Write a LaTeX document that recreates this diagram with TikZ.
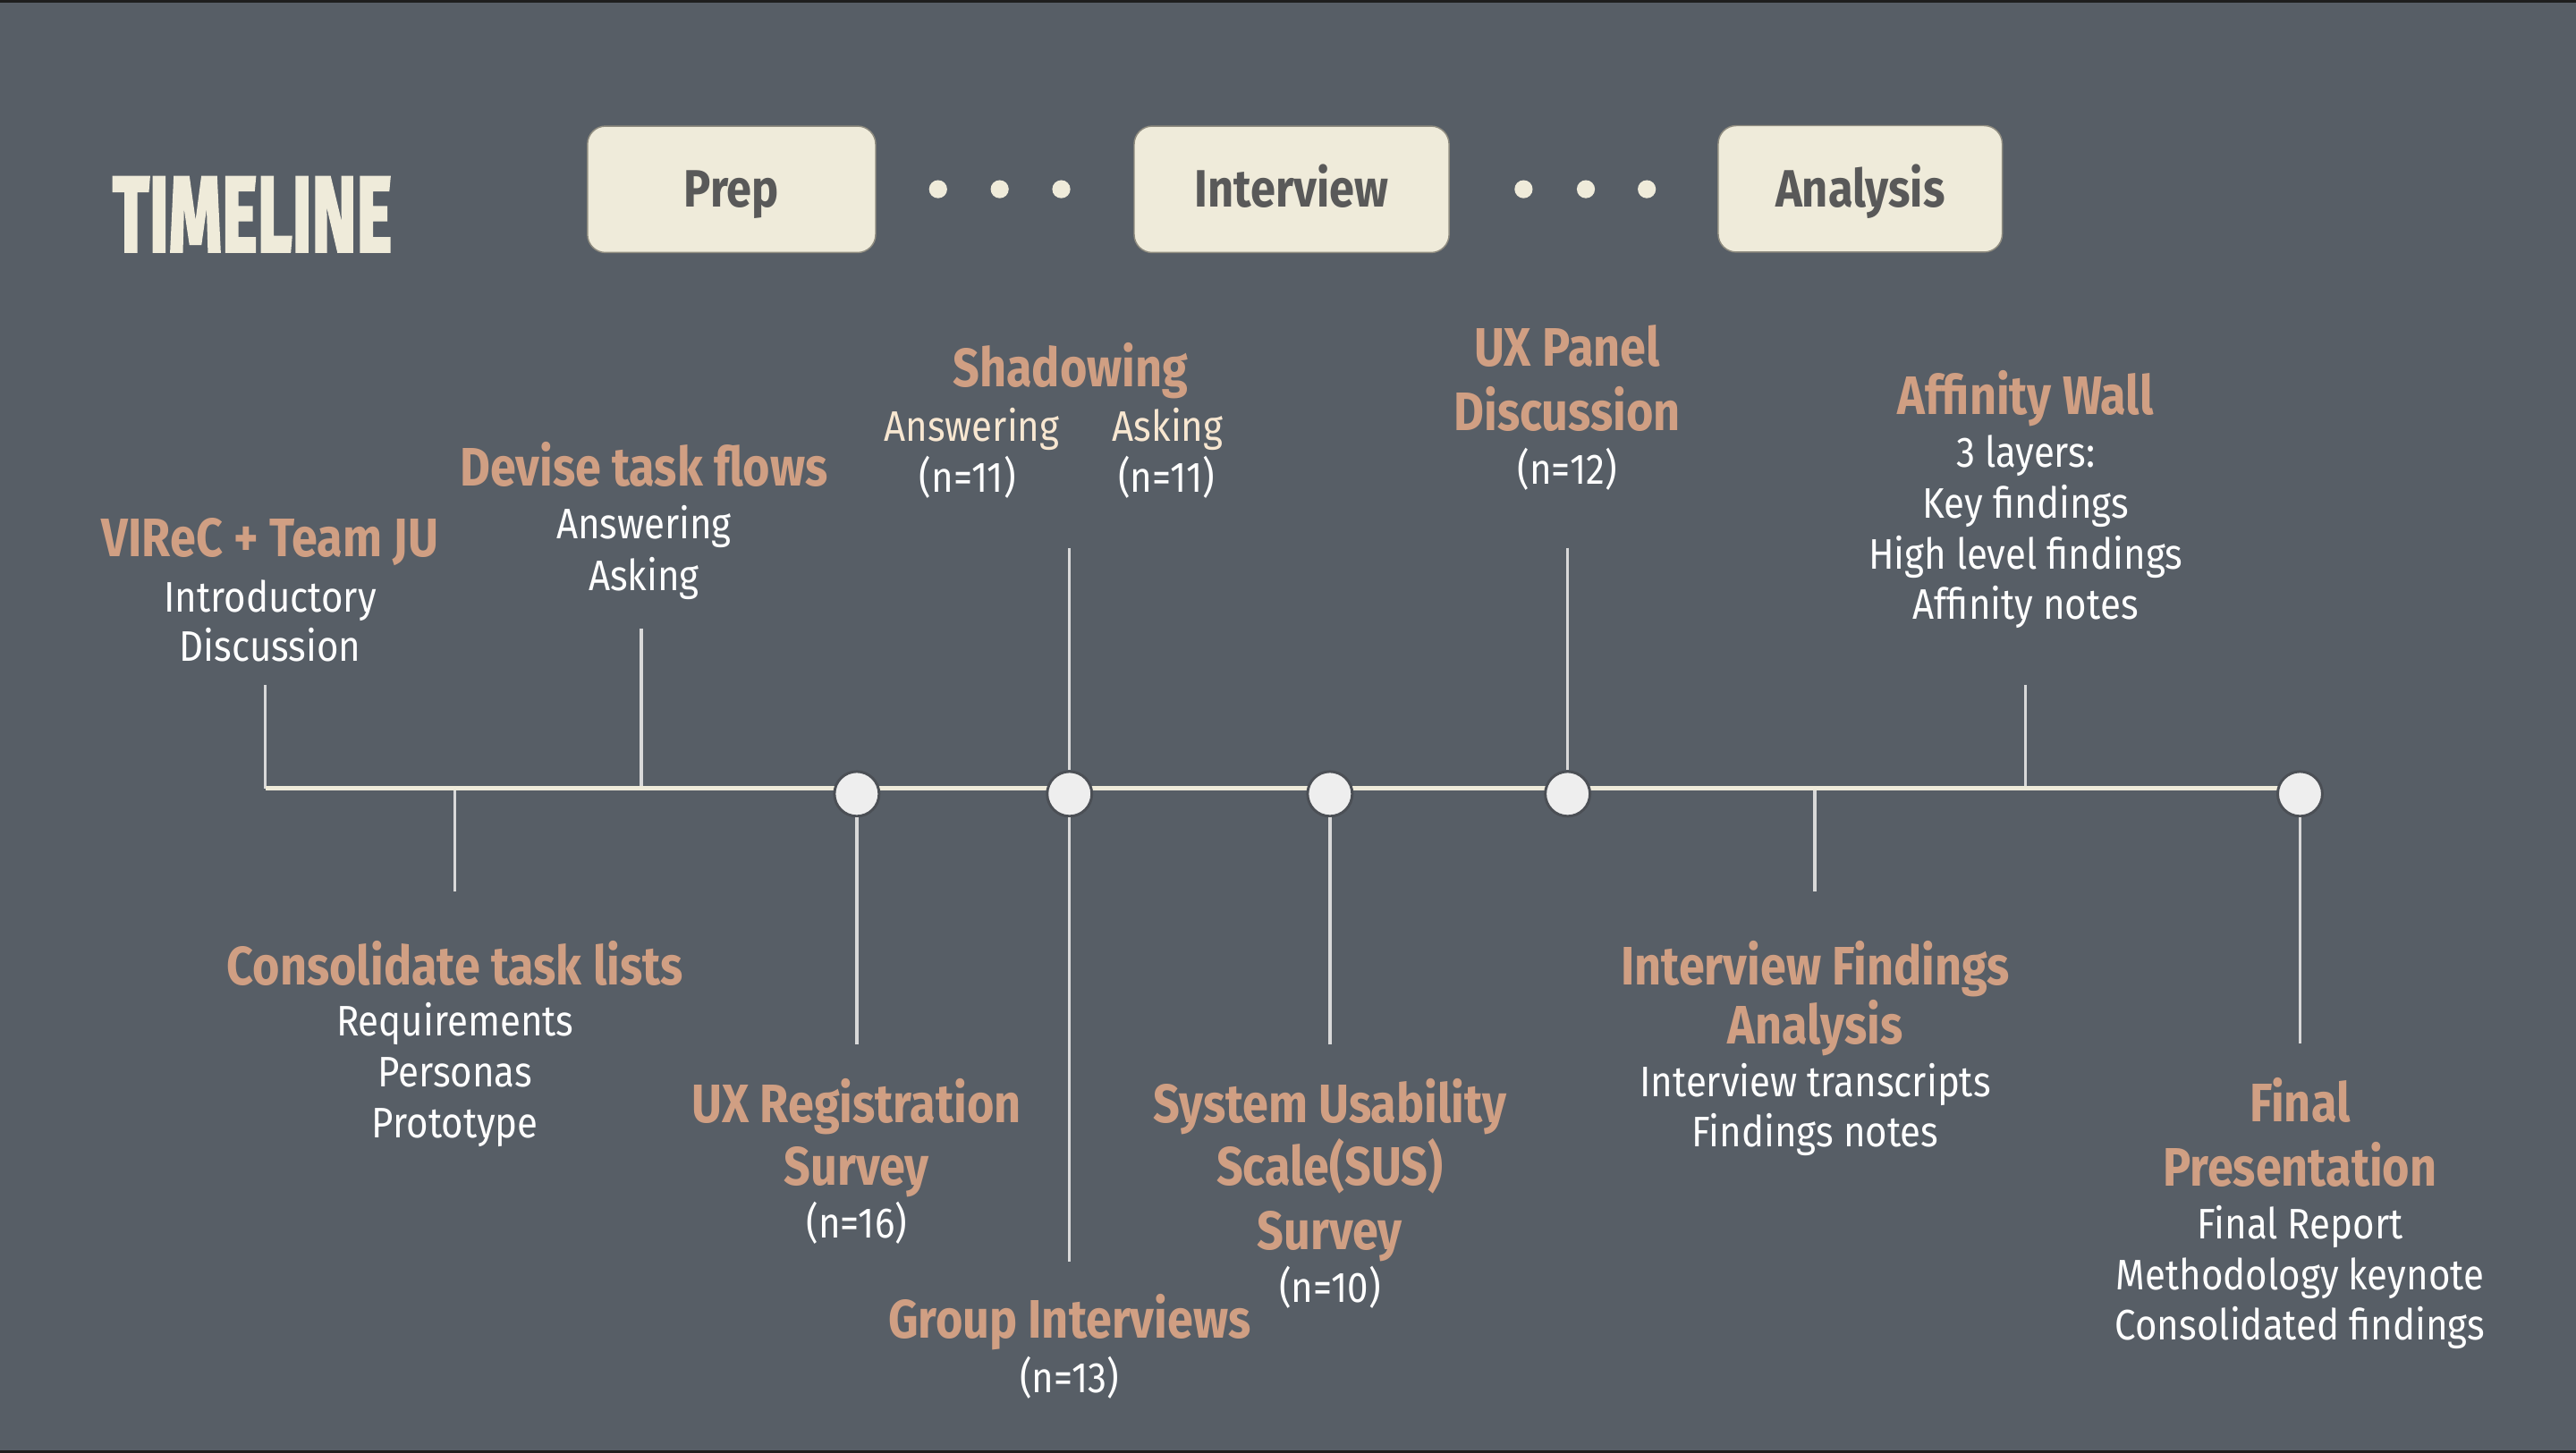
\documentclass[tikz,border=0pt]{standalone}
\usepackage{fontspec}
\usepackage{graphicx}
\newfontfamily\ttlfnt[FakeStretch=0.86]{Fira Sans}
\newfontfamily\subfnt[FakeStretch=0.88]{Fira Sans}
\newfontfamily\bigfnt[FakeBold=3]{Fira Sans}
\definecolor{bgc}{HTML}{575E66}
\definecolor{edgec}{HTML}{1E1E1E}
\definecolor{cream}{HTML}{EFEBDA}
\definecolor{ttlc}{HTML}{D09F83}
\definecolor{peach}{HTML}{F8E7D1}
\definecolor{boxtxt}{HTML}{595959}
\definecolor{boxedge}{HTML}{8F8C80}
\definecolor{dotc}{HTML}{EEEEEE}
\definecolor{ringc}{HTML}{4B4F55}
\definecolor{stemc}{HTML}{D9D9D9}
\tikzset{
  phase/.style={rectangle, rounded corners=11pt, fill=cream, draw=boxedge, line width=0.8pt,
    minimum height=77pt, inner sep=0pt, text height=21.7pt, text depth=0pt, text=boxtxt,
    font=\ttlfnt\bfseries\fontsize{32}{36}\selectfont},
  sepdot/.style={circle, fill=cream, minimum size=11pt, inner sep=0pt},
  mile/.style={circle, fill=dotc, draw=ringc, line width=1.6pt, minimum size=27.2pt, inner sep=0pt},
  axis/.style={draw=cream, line width=3.1pt},
  stem/.style={draw=stemc, line width=1.8pt},
  ttl/.style={anchor=base, inner sep=0pt, text=ttlc, font=\ttlfnt\bfseries\fontsize{33}{38}\selectfont},
  sb/.style={anchor=base, inner sep=0pt, text=white, font=\subfnt\fontsize{26}{31}\selectfont},
  sbp/.style={sb, text=peach}
}
\begin{document}
\begin{tikzpicture}[x=1pt,y=-1pt]
\useasboundingbox (0,0) rectangle (1568,884.7);
\fill[bgc] (0,0) rectangle (1568,884.7);
\fill[edgec] (0,0) rectangle (1568,1.6);
\fill[edgec] (0,883.1) rectangle (1568,884.7);

% heading
\node[anchor=base west, inner sep=0pt, text=cream] (heading) at (68.4,153)
  {\resizebox{170pt}{45pt}{\bigfnt\bfseries TIMELINE}};

% phases
\node[phase, minimum width=175.4pt] (prep) at (445.3,115.3) {Prep};
\node[phase, minimum width=191.7pt] (intv) at (786.2,115.3) {Interview};
\node[phase, minimum width=172.9pt] (anal) at (1132.3,115.0) {Analysis};
\node[sepdot] (d1) at (571,115.2) {};
\node[sepdot] (d2) at (608.5,115.2) {};
\node[sepdot] (d3) at (646,115.2) {};
\node[sepdot] (d4) at (927.4,115.2) {};
\node[sepdot] (d5) at (965.3,115.2) {};
\node[sepdot] (d6) at (1002.4,115.2) {};

% stems that do not touch a milestone circle
\coordinate (tlA) at (161.5,480);
\coordinate (tlB) at (1400,480);
\coordinate (s1) at (161.5,417);
\coordinate (s2a) at (390.3,383);   \coordinate (s2b) at (390.3,480);
\coordinate (s3a) at (276.7,480);   \coordinate (s3b) at (276.7,543);
\coordinate (s9a) at (1104.7,480);  \coordinate (s9b) at (1104.7,543);
\coordinate (s10a) at (1233,417);   \coordinate (s10b) at (1233,480);
\draw[stem] (s1) -- (tlA);
\draw[stem] (s2a) -- (s2b);
\draw[stem] (s3a) -- (s3b);
\draw[stem] (s9a) -- (s9b);
\draw[stem] (s10a) -- (s10b);

% axis
\draw[axis] (tlA) -- (tlB);

% milestones
\node[mile] (m1) at (521.5,483.4) {};
\node[mile] (m2) at (651,483.4) {};
\node[mile] (m3) at (809.5,483.4) {};
\node[mile] (m4) at (954.2,483.4) {};
\node[mile] (m5) at (1400,483.4) {};

\coordinate (s4) at (521.5,635.8);
\coordinate (s5) at (651,334);
\coordinate (s6) at (651,768.2);
\coordinate (s7) at (809.5,635.8);
\coordinate (s8) at (954.2,333.6);
\coordinate (s11) at (1400,635.6);
\draw[stem] (m1) -- (s4);
\draw[stem] (s5) -- (m2);
\draw[stem] (m2) -- (s6);
\draw[stem] (m3) -- (s7);
\draw[stem] (s8) -- (m4);
\draw[stem] (m5) -- (s11);

% VIReC
\node[ttl] (a1) at (164.5,339) {VIReC + Team JU};
\node[sb] (a2) at (164.5,372.5) {Introductory};
\node[sb] (a3) at (164.5,402.5) {Discussion};
% Devise
\node[ttl] (b1) at (392,296) {Devise task flows};
\node[sb] (b2) at (392,328) {Answering};
\node[sb] (b3) at (392,359.4) {Asking};
% Shadowing
\node[ttl] (c1) at (651.5,235.6) {Shadowing};
\node[sbp] (c2) at (591.6,268.6) {Answering};
\node[sbp] (c3) at (710.8,268.6) {Asking};
\node[sb] (c4) at (589,299.8) {(n=11)};
\node[sb] (c5) at (710,299.8) {(n=11)};
% UX Panel
\node[ttl] (e1) at (954,223.2) {UX Panel};
\node[ttl] (e2) at (954,262.2) {Discussion};
\node[sb] (e3) at (954,294.9) {(n=12)};
% Affinity
\node[ttl] (f1) at (1233,252.3) {Affinity Wall};
\node[sb] (f2) at (1233,284.6) {3 layers:};
\node[sb] (f3) at (1233,315.4) {Key findings};
\node[sb] (f4) at (1233,346.3) {High level findings};
\node[sb] (f5) at (1233,377.1) {Affinity notes};
% Consolidate
\node[ttl] (g1) at (277,599.8) {Consolidate task lists};
\node[sb] (g2) at (277,631) {Requirements};
\node[sb] (g3) at (277,662) {Personas};
\node[sb] (g4) at (277,693) {Prototype};
% UX Registration
\node[ttl] (h1) at (521.5,683.3) {UX Registration};
\node[ttl] (h2) at (521.5,721.7) {Survey};
\node[sb] (h3) at (521.5,753.9) {(n=16)};
% Group interviews
\node[ttl] (i1) at (651,815) {Group Interviews};
\node[sb] (i2) at (651,848) {(n=13)};
% SUS
\node[ttl] (j1) at (809.5,683.3) {System Usability};
\node[ttl] (j2) at (809.5,721.7) {Scale(SUS)};
\node[ttl] (j3) at (809.5,761) {Survey};
\node[sb] (j4) at (809.5,793) {(n=10)};
% Interview findings
\node[ttl] (k1) at (1105,599.8) {Interview Findings};
\node[ttl] (k2) at (1105,635.6) {Analysis};
\node[sb] (k3) at (1105,667.5) {Interview transcripts};
\node[sb] (k4) at (1105,698.1) {Findings notes};
% Final
\node[ttl] (l1) at (1400,682.9) {Final};
\node[ttl] (l2) at (1400,722) {Presentation};
\node[sb] (l3) at (1400,754.5) {Final Report};
\node[sb] (l4) at (1400,785.3) {Methodology keynote};
\node[sb] (l5) at (1400,816.1) {Consolidated findings};
\end{tikzpicture}
\end{document}
